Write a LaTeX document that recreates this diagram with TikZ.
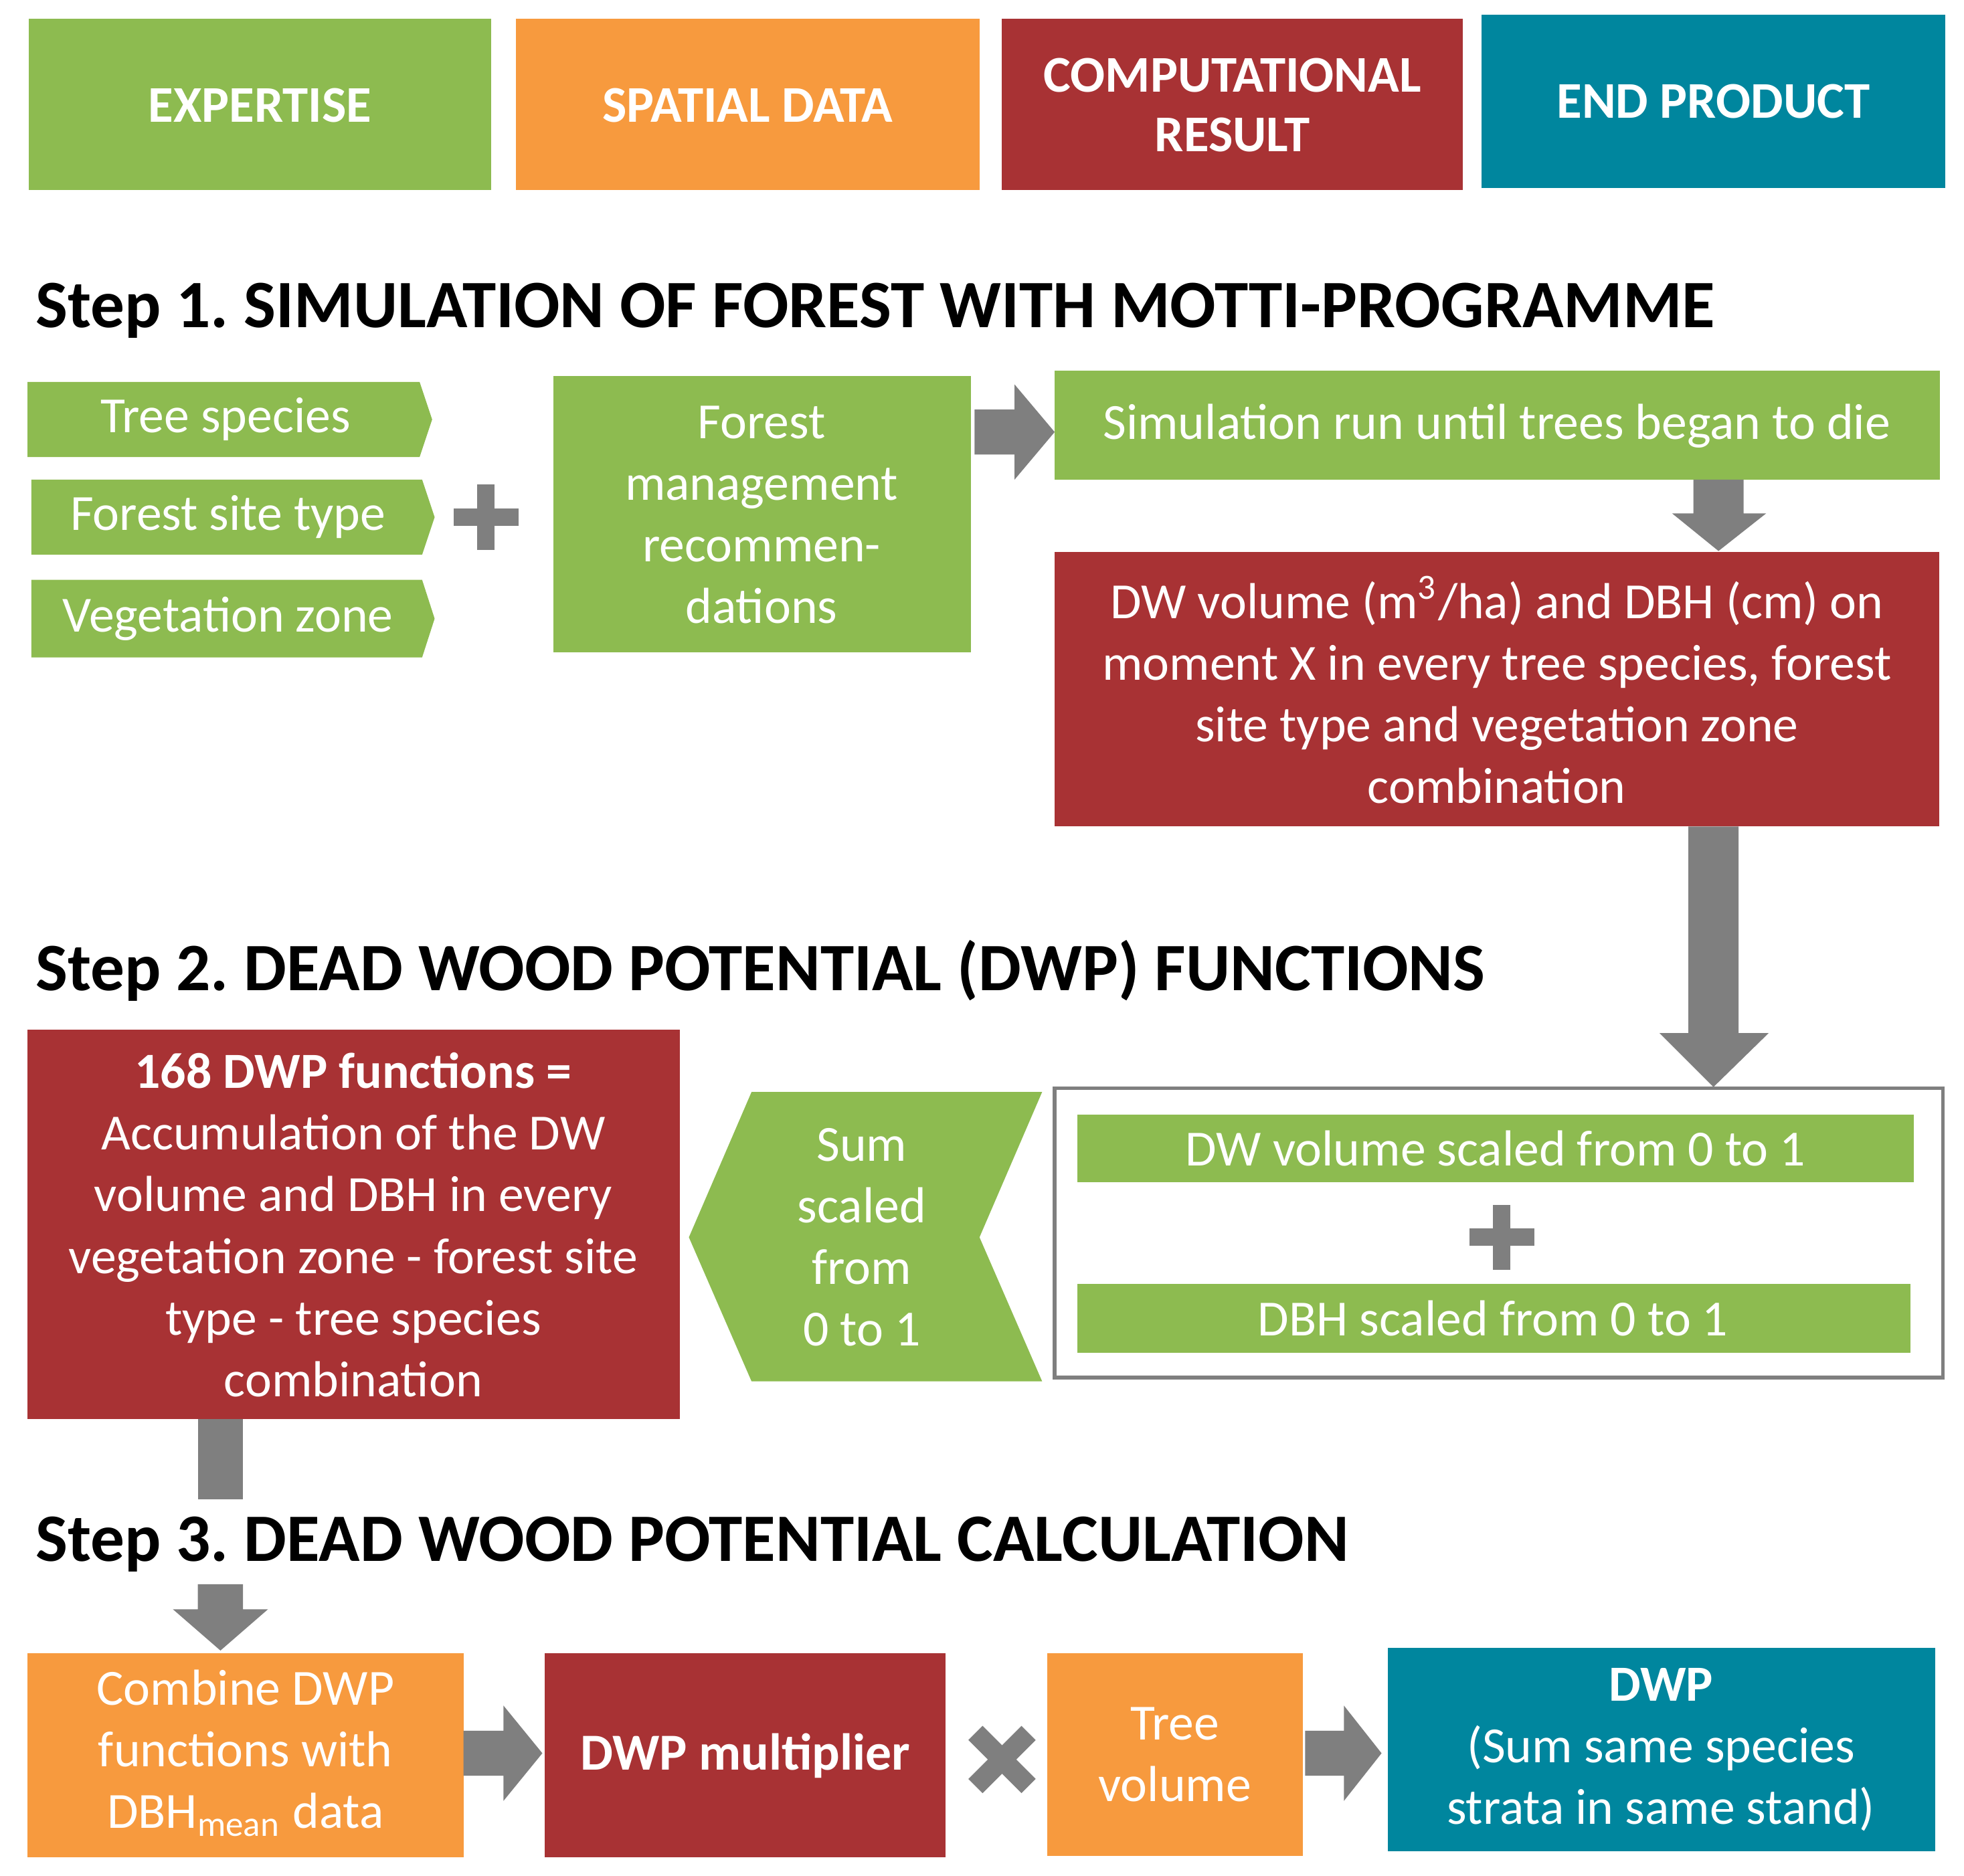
\documentclass[tikz,border=0pt]{standalone}
\usepackage{fontspec}
\setmainfont{Carlito}
\usetikzlibrary{positioning}
\definecolor{cgreen}{RGB}{141,187,80}
\definecolor{corange}{RGB}{247,154,62}
\definecolor{cred}{RGB}{168,50,52}
\definecolor{cteal}{RGB}{0,134,158}
\definecolor{cgray}{RGB}{127,127,127}
\begin{document}
\begin{tikzpicture}[x=0.01cm,y=-0.01cm,
  hdr/.style={text=white,font=\fontsize{11.7}{13.5}\selectfont\bfseries,align=center},
  txt/.style={text=white,font=\fontsize{11.5}{14}\selectfont,align=center},
  ttl/.style={anchor=west,font=\fontsize{15.4}{17}\selectfont\bfseries},
  arr/.style={fill=cgray,draw=none}]
\useasboundingbox (0,0) rectangle (1568,1498);
% header
\fill[cgreen] (23,15) rectangle (392,152);
\node[hdr] (h1) at (207.5,84) {EXPERTISE};
\fill[corange] (412,15) rectangle (782,152);
\node[hdr] (h2) at (597,84) {SPATIAL DATA};
\fill[cred] (800,15) rectangle (1168,152);
\node[hdr] (h3) at (984,84) {COMPUTATIONAL\\RESULT};
\fill[cteal] (1183,12) rectangle (1553,150);
\node[hdr] (h4) at (1368,81) {END PRODUCT};
% step 1
\node[ttl] (s1) at (16,248) {Step 1.\ SIMULATION OF FOREST WITH MOTTI-PROGRAMME};
\fill[cgreen] (22,305) -- (335,305) -- (345,335) -- (335,365) -- (22,365) -- cycle;
\node[txt] (ts) at (180,335) {Tree species};
\fill[cgreen] (25,383) -- (337,383) -- (347,413) -- (337,443) -- (25,443) -- cycle;
\node[txt] (fs) at (182,413) {Forest site type};
\fill[cgreen] (25,463) -- (337,463) -- (347,494) -- (337,525) -- (25,525) -- cycle;
\node[txt] (vz) at (182,494) {Vegetation zone};
\fill[cgray] (362,406) rectangle (414,420);
\fill[cgray] (381,387) rectangle (395,439);
\fill[cgreen] (442,300) rectangle (775,521);
\node[txt] (fm) at (608,411) {Forest\\management\\recommen-\\dations};
\fill[arr] (778,327) -- (810,327) -- (810,307) -- (842,345) -- (810,383) -- (810,363) -- (778,363) -- cycle;
\fill[cgreen] (842,296) rectangle (1549,383);
\node[txt] (sim) at (1195,340) {Simulation run until trees began to die};
\fill[arr] (1352,383) -- (1392,383) -- (1392,410) -- (1410,410) -- (1372,440) -- (1335,410) -- (1352,410) -- cycle;
\fill[cred] (842,441) rectangle (1548,660);
\node[txt] (dw) at (1195,551) {DW volume (m\textsuperscript{3}/ha) and DBH (cm) on\\moment X in every tree species, forest\\site type and vegetation zone\\combination};
\fill[arr] (1348,660) -- (1388,660) -- (1388,825) -- (1412,825) -- (1368,868) -- (1325,825) -- (1348,825) -- cycle;
% step 2
\node[ttl] (s2) at (16,775) {Step 2.\ DEAD WOOD POTENTIAL (DWP) FUNCTIONS};
\fill[cred] (22,822) rectangle (543,1133);
\node[txt] (f168) at (282,978) {\textbf{168 DWP functions =}\\Accumulation of the DW\\volume and DBH in every\\vegetation zone - forest site\\type - tree species\\combination};
\fill[cgreen] (600,872) -- (832,872) -- (782,988) -- (832,1103) -- (600,1103) -- (550,988) -- cycle;
\node[txt] (sum) at (688,988) {Sum\\scaled\\from\\0 to 1};
\draw[cgray,line width=0.8pt] (842,869) rectangle (1551,1100);
\fill[cgreen] (860,890) rectangle (1528,944);
\node[txt] (dws) at (1194,917) {DW volume scaled from 0 to 1};
\fill[cgray] (1173,981) rectangle (1225,995);
\fill[cgray] (1192,962) rectangle (1206,1014);
\fill[cgreen] (860,1025) rectangle (1525,1080);
\node[txt] (dbs) at (1192,1053) {DBH scaled from 0 to 1};
\fill[arr] (158,1133) rectangle (194,1197);
% step 3
\node[ttl] (s3) at (16,1233) {Step 3.\ DEAD WOOD POTENTIAL CALCULATION};
\fill[arr] (158,1265) -- (194,1265) -- (194,1285) -- (214,1285) -- (176,1318) -- (138,1285) -- (158,1285) -- cycle;
\fill[corange] (22,1320) rectangle (370,1483);
\node[txt] (comb) at (196,1400) {Combine DWP\\functions with\\DBH\textsubscript{mean} data};
\fill[arr] (370,1382) -- (402,1382) -- (402,1362) -- (433,1400) -- (402,1438) -- (402,1418) -- (370,1418) -- cycle;
\fill[cred] (435,1320) rectangle (755,1483);
\node[txt,font=\fontsize{11.8}{14}\selectfont\bfseries] (mult) at (595,1402) {DWP multiplier};
\begin{scope}[shift={(800,1405)},rotate=45]
\fill[cgray] (-30,-8) rectangle (30,8);
\fill[cgray] (-8,-30) rectangle (8,30);
\end{scope}
\fill[corange] (836,1320) rectangle (1040,1482);
\node[txt] (tv) at (938,1401) {Tree\\volume};
\fill[arr] (1042,1382) -- (1073,1382) -- (1073,1362) -- (1103,1400) -- (1073,1438) -- (1073,1418) -- (1042,1418) -- cycle;
\fill[cteal] (1108,1316) rectangle (1545,1478);
\node[txt] (dwp) at (1326,1397) {\textbf{DWP}\\(Sum same species\\strata in same stand)};
\end{tikzpicture}
\end{document}
